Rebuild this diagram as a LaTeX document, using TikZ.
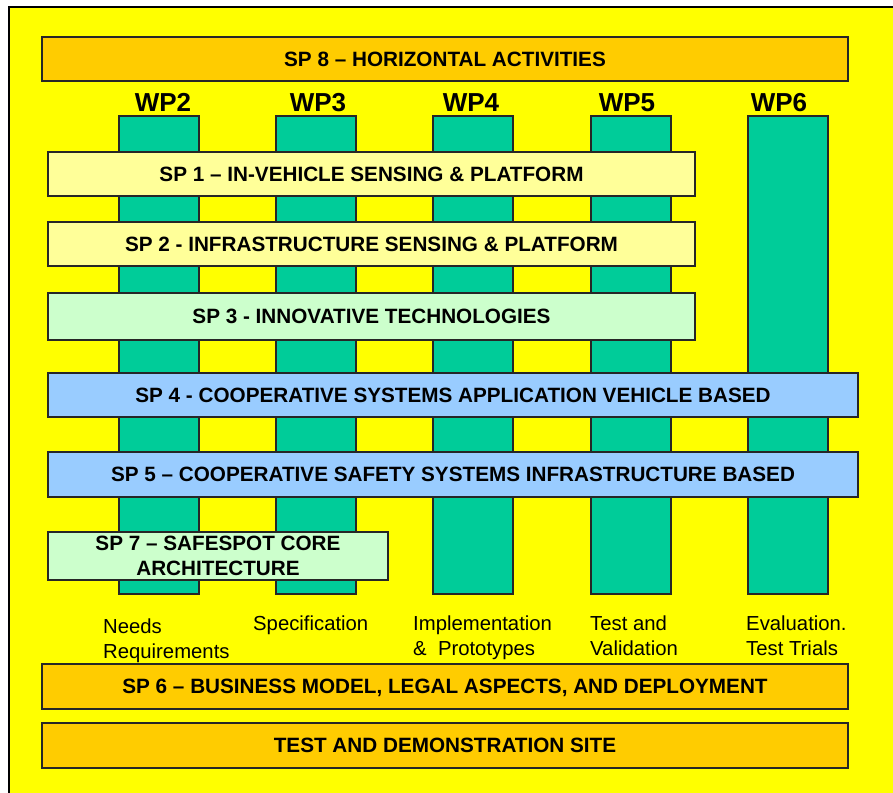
\documentclass[tikz,border=0pt]{standalone}
\usepackage{fontspec}
\setmainfont{Liberation Sans}
\definecolor{bgyellow}{HTML}{FFFF00}
\definecolor{orangebox}{HTML}{FFCC00}
\definecolor{wpgreen}{HTML}{00CC99}
\definecolor{paleyellow}{HTML}{FFFF99}
\definecolor{palegreen}{HTML}{CCFFCC}
\definecolor{paleblue}{HTML}{99CCFF}
\begin{document}
\begin{tikzpicture}[x=1pt,y=-1pt,
  boxbase/.style={draw=black!85, line width=1.3pt, inner sep=0pt, outer sep=0pt, anchor=north west},
  wpbar/.style={boxbase, fill=wpgreen, minimum width=80, minimum height=478},
  spbox/.style={boxbase, font=\fontsize{20.7}{25}\selectfont\bfseries, text height=14.8pt, text depth=0pt},
  wplabel/.style={anchor=base, inner sep=0pt, font=\fontsize{26}{30}\selectfont\bfseries},
  phase/.style={anchor=base west, inner sep=0pt, font=\fontsize{20.3}{25}\selectfont}
]
% page area and outer frame
\clip (0,0) rectangle (893,792);
\fill[white] (0,0) rectangle (893,792);
\draw[fill=bgyellow, line width=2pt] (9,7.5) rectangle (905,810);

% horizontal top band
\node[spbox, fill=orangebox, minimum width=806, minimum height=44] (sp8) at (42,37) {SP 8 – HORIZONTAL ACTIVITIES};

% work package columns
\node[wpbar] (wp2) at (119,116) {};
\node[wpbar] (wp3) at (276,116) {};
\node[wpbar] (wp4) at (433,116) {};
\node[wpbar] (wp5) at (591,116) {};
\node[wpbar] (wp6) at (748,116) {};

\node[wplabel] (wp2t) at (163,111) {WP2};
\node[wplabel] (wp3t) at (318,111) {WP3};
\node[wplabel] (wp4t) at (471,111) {WP4};
\node[wplabel] (wp5t) at (627,111) {WP5};
\node[wplabel] (wp6t) at (779,111) {WP6};

% sub-projects crossing the columns
\node[spbox, fill=paleyellow, minimum width=647, minimum height=44] (sp1) at (48,152) {SP 1 – IN-VEHICLE SENSING \& PLATFORM};
\node[spbox, fill=paleyellow, minimum width=647, minimum height=44] (sp2) at (48,222) {SP 2 - INFRASTRUCTURE SENSING \& PLATFORM};
\node[spbox, fill=palegreen, minimum width=647, minimum height=47] (sp3) at (48,293) {SP 3 - INNOVATIVE TECHNOLOGIES};
\node[spbox, fill=paleblue, minimum width=810, minimum height=44] (sp4) at (48,373) {SP 4 - COOPERATIVE SYSTEMS APPLICATION VEHICLE BASED};
\node[spbox, fill=paleblue, minimum width=810, minimum height=45] (sp5) at (48,452) {SP 5 – COOPERATIVE SAFETY SYSTEMS INFRASTRUCTURE BASED};
\node[boxbase, fill=palegreen, minimum width=340, minimum height=48, align=center,
      font=\fontsize{20.7}{25}\selectfont\bfseries] (sp7) at (48,532) {SP 7 – SAFESPOT CORE\\ARCHITECTURE};

% phase captions under the columns
\node[phase] (ph2a) at (103,633) {Needs};
\node[phase] (ph2b) at (103,658) {Requirements};
\node[phase] (ph3a) at (253,630) {Specification};
\node[phase] (ph4a) at (413,630) {Implementation};
\node[phase] (ph4b) at (413,655) {\&\ \ Prototypes};
\node[phase] (ph5a) at (590,630) {Test and};
\node[phase] (ph5b) at (590,655) {Validation};
\node[phase] (ph6a) at (746,630) {Evaluation.};
\node[phase] (ph6b) at (746,655) {Test Trials};

% bottom bands
\node[spbox, fill=orangebox, minimum width=806, minimum height=45] (sp6) at (42,664) {SP 6 – BUSINESS MODEL, LEGAL ASPECTS, AND DEPLOYMENT};
\node[spbox, fill=orangebox, minimum width=806, minimum height=45] (site) at (42,723) {TEST AND DEMONSTRATION SITE};
\end{tikzpicture}
\end{document}
